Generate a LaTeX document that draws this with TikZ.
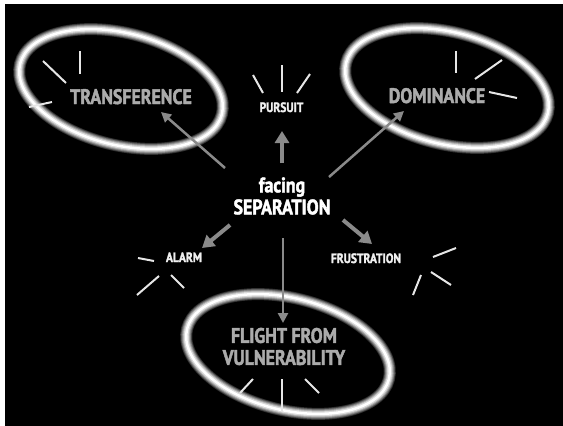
\documentclass[tikz,border=0pt]{standalone}
\usepackage{fontspec}
\newfontfamily\cond[FakeStretch=0.85,FakeBold=2]{PT Sans}
\usetikzlibrary{shapes.geometric,arrows.meta}
\definecolor{arrowgray}{HTML}{8A8A8A}
\definecolor{labelgray}{HTML}{ABABAB}
\definecolor{tickwhite}{HTML}{E6E6E6}
\tikzset{
  ring/.style={ellipse, inner sep=0pt, rotate=-14,
    minimum width=208pt, minimum height=112pt,
    draw=white, line width=2.5pt,
    preaction={draw=white!18!black, line width=12pt},
    preaction={draw=white!32!black, line width=10.5pt},
    preaction={draw=white!50!black, line width=9pt},
    preaction={draw=white!68!black, line width=7pt},
    preaction={draw=white!85!black, line width=5pt}},
  biglabel/.style={text=labelgray, font=\cond\bfseries\fontsize{21}{22}\selectfont, align=center, inner sep=0pt},
  centerlabel/.style={text=white, font=\cond\bfseries\fontsize{21}{22}\selectfont, align=center, inner sep=0pt},
  smalllabel/.style={text=white!94!black, font=\cond\bfseries\fontsize{13.5}{14}\selectfont, inner sep=0pt},
  thickarrow/.style={draw=arrowgray, line width=4pt, -{Triangle[width=14pt,length=12pt]}},
  thinarrow/.style={draw=arrowgray, line width=2.5pt, -{Triangle[width=10pt,length=10pt]}},
  tick/.style={draw=tickwhite, line width=2pt}
}
\begin{document}
\begin{tikzpicture}[x=1pt,y=-1pt]
\useasboundingbox (0,0) rectangle (563,426);
\fill[white] (0,0) rectangle (563,426);
\fill[black] (5,4) rectangle (563,426);

% rings
\node[ring] (trring) at (121,89) {};
\node[ring] (doring) at (447,88) {};
\node[ring] (flring) at (288,354) {};

% labels
\node[biglabel, anchor=base] (tr) at (131,104) {TRANSFERENCE};
\node[biglabel, anchor=base] (do) at (437,103) {DOMINANCE};
\node[biglabel] (fl) at (284,346.5) {FLIGHT FROM\\VULNERABILITY};
\node[centerlabel] (sep) at (282,196) {facing\\SEPARATION};
\node[smalllabel, anchor=base] (pu) at (281.5,112) {PURSUIT};
\node[smalllabel, anchor=base] (al) at (184,262) {ALARM};
\node[smalllabel, anchor=base] (fr) at (366,263) {FRUSTRATION};

% arrow end points
\coordinate (puS) at (282,163); \coordinate (puE) at (282,131);
\coordinate (trS) at (225,168); \coordinate (trE) at (161,112);
\coordinate (doS) at (329,177); \coordinate (doE) at (404,111);
\coordinate (alS) at (230,225); \coordinate (alE) at (202,248);
\coordinate (frS) at (343,220); \coordinate (frE) at (372,244);
\coordinate (flS) at (283,238); \coordinate (flE) at (283,323);

\draw[thickarrow] (puS) -- (puE);
\draw[thinarrow] (trS) -- (trE);
\draw[thinarrow] (doS) -- (doE);
\draw[thickarrow] (alS) -- (alE);
\draw[thickarrow] (frS) -- (frE);
\draw[thinarrow] (flS) -- (flE);

% radiating ticks
\coordinate (t1a) at (43,61);  \coordinate (t1b) at (66,83);
\coordinate (t2a) at (80,51);  \coordinate (t2b) at (80,74);
\coordinate (t3a) at (29,107); \coordinate (t3b) at (52,102);
\draw[tick] (t1a) -- (t1b); \draw[tick] (t2a) -- (t2b); \draw[tick] (t3a) -- (t3b);

\coordinate (p1a) at (253,75); \coordinate (p1b) at (263,93);
\coordinate (p2a) at (282,65); \coordinate (p2b) at (282,92);
\coordinate (p3a) at (310,74); \coordinate (p3b) at (297,93);
\draw[tick] (p1a) -- (p1b); \draw[tick] (p2a) -- (p2b); \draw[tick] (p3a) -- (p3b);

\coordinate (d1a) at (456,51); \coordinate (d1b) at (456,73);
\coordinate (d2a) at (502,60); \coordinate (d2b) at (475,79);
\coordinate (d3a) at (489,92); \coordinate (d3b) at (517,98);
\draw[tick] (d1a) -- (d1b); \draw[tick] (d2a) -- (d2b); \draw[tick] (d3a) -- (d3b);

\coordinate (a1a) at (138,258); \coordinate (a1b) at (154,261);
\coordinate (a2a) at (159,276); \coordinate (a2b) at (137,295);
\coordinate (a3a) at (171,275); \coordinate (a3b) at (184,288);
\draw[tick] (a1a) -- (a1b); \draw[tick] (a2a) -- (a2b); \draw[tick] (a3a) -- (a3b);

\coordinate (f1a) at (433,257); \coordinate (f1b) at (456,248);
\coordinate (f2a) at (431,272); \coordinate (f2b) at (451,285);
\coordinate (f3a) at (421,275); \coordinate (f3b) at (413,295);
\draw[tick] (f1a) -- (f1b); \draw[tick] (f2a) -- (f2b); \draw[tick] (f3a) -- (f3b);

\coordinate (v1a) at (253,379); \coordinate (v1b) at (240,393);
\coordinate (v2a) at (282,379); \coordinate (v2b) at (282,412);
\coordinate (v3a) at (305,379); \coordinate (v3b) at (319,393);
\draw[tick] (v1a) -- (v1b); \draw[tick] (v2a) -- (v2b); \draw[tick] (v3a) -- (v3b);
\end{tikzpicture}
\end{document}
